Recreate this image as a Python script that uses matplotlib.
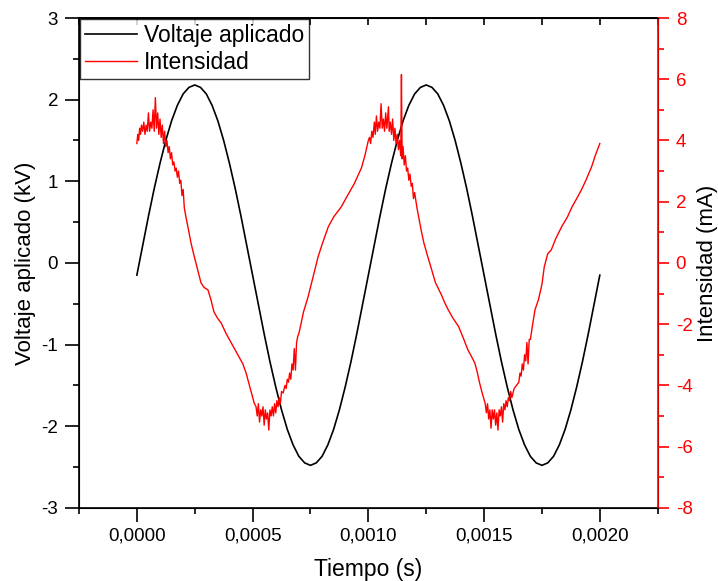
import matplotlib
matplotlib.use("Agg")
import matplotlib.pyplot as plt
from matplotlib.ticker import FuncFormatter, MultipleLocator

plt.rcParams['font.family'] = ['Liberation Sans', 'DejaVu Sans']
plt.rcParams['axes.unicode_minus'] = False

# applied voltage (kV), sampled every 0.025 ms over two periods
volt_t_ms = [i * 0.025 for i in range(81)]
volt_kv = [-0.15, 0.21, 0.57, 0.91, 1.22, 1.50, 1.74, 1.93, 2.07, 2.15, 2.18,
           2.15, 2.07, 1.93, 1.74, 1.50, 1.22, 0.91, 0.57, 0.21, -0.15,
           -0.51, -0.87, -1.21, -1.52, -1.80, -2.04, -2.23, -2.37, -2.45, -2.48,
           -2.45, -2.37, -2.23, -2.04, -1.80, -1.52, -1.21, -0.87, -0.51, -0.15,
           0.21, 0.57, 0.91, 1.22, 1.50, 1.74, 1.93, 2.07, 2.15, 2.18,
           2.15, 2.07, 1.93, 1.74, 1.50, 1.22, 0.91, 0.57, 0.21, -0.15,
           -0.51, -0.87, -1.21, -1.52, -1.80, -2.04, -2.23, -2.37, -2.45, -2.48,
           -2.45, -2.37, -2.23, -2.04, -1.80, -1.52, -1.21, -0.87, -0.51, -0.15]

# current (mA)
curr_t_ms = [0.000, 0.004, 0.008, 0.012, 0.016, 0.020, 0.025, 0.030, 0.035, 0.040,
             0.045, 0.050, 0.055, 0.060, 0.065, 0.070, 0.075, 0.080, 0.085, 0.090,
             0.095, 0.100, 0.105, 0.110, 0.115, 0.120, 0.125, 0.130, 0.135, 0.140,
             0.145, 0.150, 0.155, 0.160, 0.165, 0.170, 0.175, 0.180, 0.185, 0.190,
             0.195, 0.200, 0.205, 0.212, 0.220, 0.234, 0.245, 0.255, 0.265, 0.277,
             0.290, 0.307, 0.320, 0.333, 0.348, 0.364, 0.385, 0.407, 0.425, 0.442,
             0.458, 0.472, 0.490, 0.507, 0.515, 0.520, 0.525, 0.530, 0.535, 0.540,
             0.545, 0.550, 0.555, 0.560, 0.565, 0.570, 0.575, 0.580, 0.585, 0.590,
             0.595, 0.600, 0.605, 0.610, 0.615, 0.620, 0.625, 0.632, 0.640, 0.645,
             0.650, 0.655, 0.660, 0.665, 0.670, 0.675, 0.680, 0.685, 0.690, 0.695,
             0.700, 0.710, 0.720, 0.730, 0.740, 0.760, 0.783, 0.800, 0.827, 0.850,
             0.883, 0.910, 0.940, 0.970, 0.985, 1.000, 1.005, 1.010, 1.015, 1.020,
             1.026, 1.030, 1.035, 1.040, 1.045, 1.050, 1.055, 1.060, 1.065, 1.070,
             1.075, 1.080, 1.087, 1.090, 1.095, 1.100, 1.105, 1.110, 1.115, 1.120,
             1.125, 1.130, 1.135, 1.140, 1.143, 1.146, 1.150, 1.155, 1.160, 1.165,
             1.170, 1.175, 1.180, 1.185, 1.190, 1.195, 1.200, 1.210, 1.220, 1.230,
             1.240, 1.255, 1.270, 1.290, 1.300, 1.316, 1.330, 1.345, 1.365, 1.390,
             1.410, 1.430, 1.445, 1.460, 1.470, 1.480, 1.490, 1.500, 1.505, 1.510,
             1.515, 1.520, 1.525, 1.530, 1.535, 1.540, 1.545, 1.550, 1.555, 1.560,
             1.565, 1.570, 1.575, 1.580, 1.585, 1.590, 1.595, 1.600, 1.605, 1.610,
             1.615, 1.620, 1.630, 1.640, 1.650, 1.655, 1.660, 1.665, 1.670, 1.675,
             1.680, 1.685, 1.690, 1.695, 1.700, 1.710, 1.720, 1.735, 1.750, 1.760,
             1.775, 1.790, 1.810, 1.835, 1.860, 1.880, 1.900, 1.920, 1.940, 1.965,
             1.980, 1.990, 2.000]
curr_ma = [3.9, 4.2, 4.0, 4.4, 4.2, 4.5, 4.3, 4.6, 4.2, 4.5,
           4.3, 4.9, 4.3, 4.6, 4.4, 5.0, 4.3, 5.4, 4.4, 4.9,
           4.2, 4.7, 4.1, 4.5, 3.9, 4.3, 3.8, 4.0, 3.6, 3.8,
           3.4, 3.6, 3.2, 3.3, 3.0, 3.1, 2.8, 3.0, 2.6, 2.7,
           2.2, 2.4, 1.8, 1.5, 1.2, 0.65, 0.3, 0.0, -0.3, -0.65,
           -0.8, -0.88, -1.2, -1.6, -1.8, -1.96, -2.3, -2.6, -2.85, -3.07,
           -3.3, -3.6, -4.1, -4.58, -4.7, -5.0, -4.6, -5.2, -4.8, -5.0,
           -4.7, -5.3, -4.8, -5.1, -4.9, -5.46, -4.8, -5.0, -4.7, -5.0,
           -4.6, -4.9, -4.5, -4.7, -4.4, -4.6, -4.2, -4.25, -4.0, -4.1,
           -3.8, -3.9, -3.6, -3.8, -3.3, -3.5, -2.8, -3.5, -2.6, -2.4,
           -2.3, -1.96, -1.6, -1.35, -1.1, -0.5, 0.2, 0.6, 1.18, 1.5,
           1.83, 2.2, 2.6, 3.1, 3.5, 4.0, 4.1, 3.9, 4.3, 4.1,
           4.6, 4.2, 4.8, 4.3, 4.6, 4.4, 5.2, 4.4, 4.7, 4.3,
           4.9, 4.4, 5.1, 4.3, 4.6, 4.2, 4.7, 4.0, 4.4, 3.9,
           4.2, 3.7, 4.0, 3.5, 6.15, 3.4, 3.8, 3.2, 3.5, 3.0,
           3.1, 2.7, 2.9, 2.5, 2.6, 2.1, 2.3, 1.8, 1.4, 1.0,
           0.65, 0.25, -0.13, -0.65, -0.8, -1.05, -1.3, -1.53, -1.8, -2.08,
           -2.45, -2.84, -3.05, -3.27, -3.55, -3.9, -4.2, -4.47, -4.6, -4.9,
           -4.6, -5.1, -4.8, -5.4, -4.8, -5.1, -4.8, -5.3, -4.9, -5.46,
           -4.8, -5.0, -4.7, -5.2, -4.6, -4.8, -4.5, -4.7, -4.4, -4.5,
           -4.2, -4.4, -4.1, -4.0, -3.9, -3.6, -3.7, -3.3, -3.5, -3.0,
           -3.2, -2.6, -3.3, -2.5, -2.5, -2.0, -1.53, -1.2, -0.7, -0.13,
           0.3, 0.42, 0.8, 1.18, 1.5, 1.83, 2.1, 2.38, 2.7, 3.15,
           3.5, 3.7, 3.9]

volt_t = [t * 1e-3 for t in volt_t_ms]
curr_t = [t * 1e-3 for t in curr_t_ms]

fig = plt.figure(figsize=(7.18, 5.81), dpi=100)
ax = fig.add_axes([0.110, 0.126, 0.806, 0.843])
ax2 = ax.twinx()

l1, = ax.plot(volt_t, volt_kv, color='black', lw=1.2, label='Voltaje aplicado')
l2, = ax2.plot(curr_t, curr_ma, color='red', lw=1.0, label='Intensidad')

ax.set_xlim(-0.00025, 0.00225)
ax.set_ylim(-3, 3)
ax2.set_ylim(-8, 8)

ax.xaxis.set_major_locator(MultipleLocator(0.0005))
ax.xaxis.set_minor_locator(MultipleLocator(0.00025))
ax.xaxis.set_major_formatter(FuncFormatter(lambda v, p: f"{abs(v) if abs(v) < 1e-9 else v:.4f}".replace('.', ',')))
ax.yaxis.set_major_locator(MultipleLocator(1))
ax.yaxis.set_minor_locator(MultipleLocator(0.5))
ax2.yaxis.set_major_locator(MultipleLocator(2))
ax2.yaxis.set_minor_locator(MultipleLocator(1))

ax.tick_params(which='major', direction='out', length=10, width=1.2, labelsize=13.5, pad=5)
ax.tick_params(which='minor', direction='out', length=4.5, width=1.2)
ax.tick_params(axis='x', which='major', pad=4)
ax2.tick_params(which='major', direction='out', length=8, width=1.2, labelsize=13.5,
                colors='red', pad=5)
ax2.tick_params(which='minor', direction='out', length=4, width=1.2, colors='red')

top = ax.secondary_xaxis('top')
top.xaxis.set_major_locator(MultipleLocator(0.00025))
top.tick_params(direction='in', length=5, width=1.2, labeltop=False)

for s in ['left', 'bottom', 'top']:
    ax.spines[s].set_linewidth(1.2)
ax2.spines['right'].set_color('red')
ax2.spines['right'].set_linewidth(1.2)
top.spines['top'].set_linewidth(1.2)

ax.set_xlabel('Tiempo (s)', fontsize=16.5, labelpad=10)
ax.set_ylabel('Voltaje aplicado (kV)', fontsize=16, labelpad=4)
ax2.set_ylabel('Intensidad (mA)', fontsize=16, labelpad=3)

leg = ax.legend([l1, l2], ['Voltaje aplicado', 'Intensidad'], loc='upper left',
                fontsize=16.5, frameon=True, fancybox=False, handlelength=2.3,
                borderaxespad=0.05, borderpad=0.2, labelspacing=0.2, handletextpad=0.3)
leg.get_frame().set_edgecolor('black')
leg.get_frame().set_linewidth(1.0)

fig.savefig('out.png', dpi=100)
